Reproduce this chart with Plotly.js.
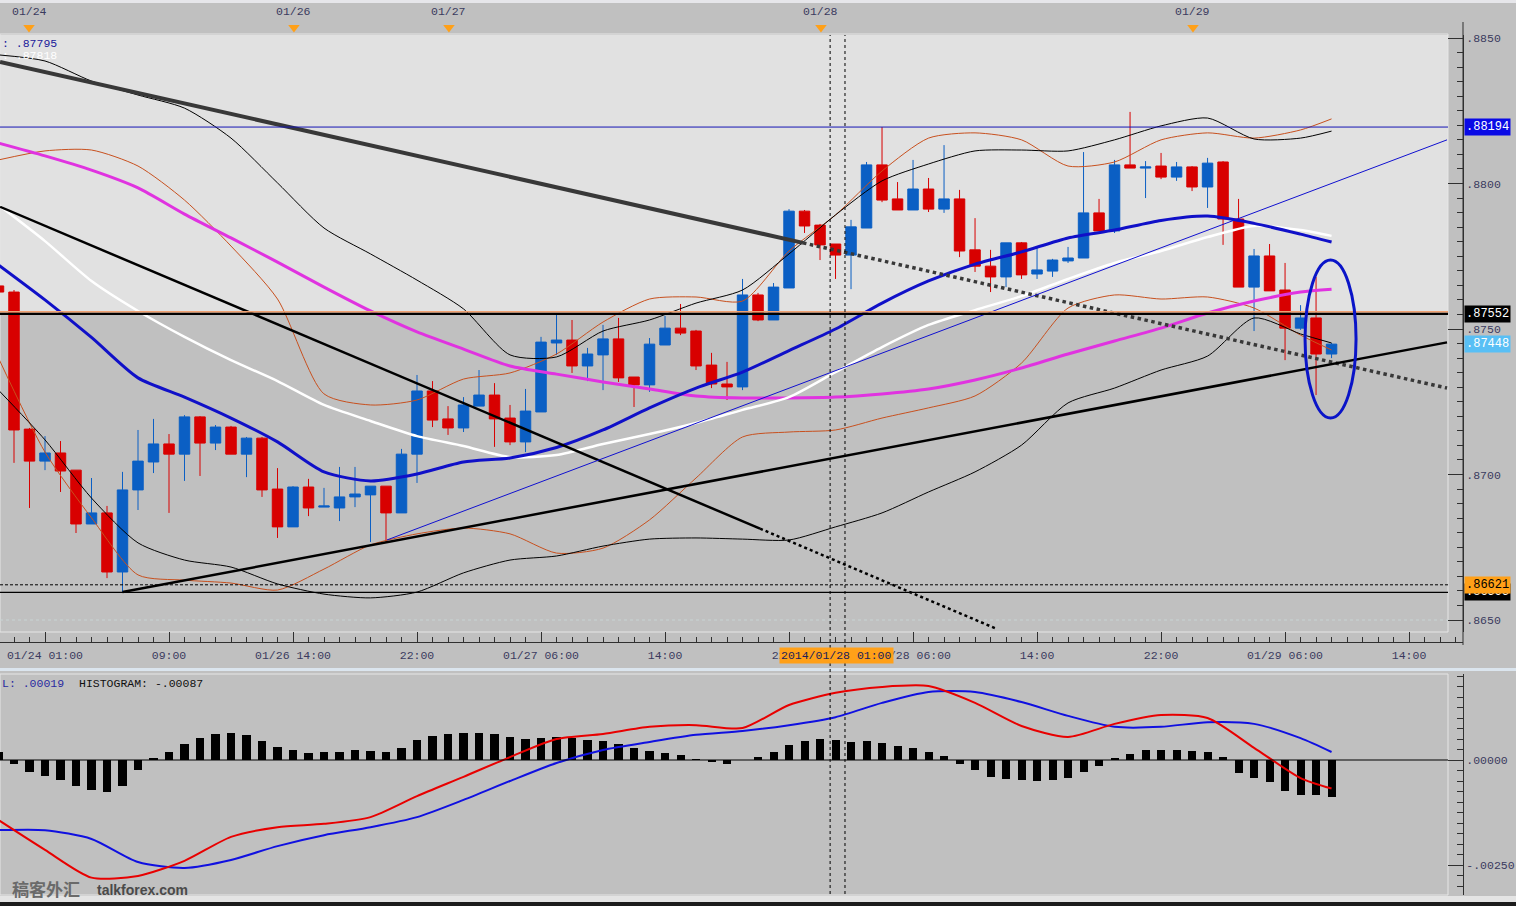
<!DOCTYPE html>
<html>
<head>
<meta charset="utf-8">
<script src="https://cdn.plot.ly/plotly-3.0.1.min.js"></script>
<style>
html,body{margin:0;padding:0;background:#c0c0c0;}
#chart{width:1516px;height:906px;}
</style>
</head>
<body>
<div id="chart"></div>
<script>
// ---------- hourly candles (bar index k = -1 .. 85) ----------
const barK = [];
for (let k = -1; k <= 85; k++) barK.push(k);

const openP = [0.87648,
 0.87627,0.87156,0.87046,0.87074,0.87015,0.86830,0.86868,0.86665,0.86947,0.87043,
 0.87105,0.87070,0.87198,0.87108,0.87163,0.87070,0.87125,0.86950,0.86820,0.86957,
 0.86888,0.86885,0.86923,0.86930,0.86960,0.86868,0.87070,0.87287,0.87191,0.87160,
 0.87235,0.87273,0.87194,0.87112,0.87215,0.87452,0.87462,0.87373,0.87411,0.87466,
 0.87335,0.87308,0.87445,0.87503,0.87493,0.87376,0.87311,0.87301,0.87617,0.87531,
 0.87641,0.87905,0.87857,0.87792,0.87754,0.87847,0.88064,0.87947,0.87909,0.87981,
 0.87912,0.87947,0.87772,0.87716,0.87679,0.87796,0.87689,0.87699,0.87734,0.87744,
 0.87899,0.87837,0.88064,0.88053,0.88060,0.88022,0.88057,0.87988,0.88074,0.87878,
 0.87644,0.87751,0.87634,0.87503,0.87538,0.87414];
const highP = [0.87658,
 0.87634,0.87160,0.87132,0.87115,0.87015,0.86988,0.86892,0.87009,0.87153,0.87191,
 0.87139,0.87204,0.87201,0.87170,0.87167,0.87129,0.87129,0.87022,0.86960,0.86985,
 0.86954,0.87026,0.87026,0.86960,0.86960,0.87088,0.87342,0.87321,0.87235,0.87266,
 0.87359,0.87314,0.87239,0.87294,0.87473,0.87552,0.87531,0.87435,0.87514,0.87538,
 0.87335,0.87469,0.87545,0.87586,0.87497,0.87418,0.87387,0.87672,0.87624,0.87658,
 0.87912,0.87909,0.87861,0.87792,0.87875,0.88074,0.88194,0.88005,0.88081,0.88019,
 0.88132,0.87978,0.87881,0.87772,0.87796,0.87799,0.87782,0.87741,0.87782,0.88108,
 0.87947,0.88081,0.88246,0.88077,0.88105,0.88074,0.88060,0.88088,0.88077,0.87947,
 0.87775,0.87792,0.87727,0.87582,0.87679,0.87452];
const lowP = [0.87620,
 0.87040,0.86885,0.87015,0.86940,0.86799,0.86830,0.86644,0.86596,0.86878,0.87005,
 0.86868,0.86978,0.86995,0.87084,0.87070,0.86991,0.86923,0.86782,0.86820,0.86857,
 0.86888,0.86840,0.86888,0.86768,0.86768,0.86868,0.86971,0.87163,0.87136,0.87146,
 0.87235,0.87095,0.87101,0.87077,0.87215,0.87411,0.87349,0.87321,0.87290,0.87318,
 0.87232,0.87284,0.87445,0.87479,0.87359,0.87297,0.87256,0.87290,0.87527,0.87531,
 0.87641,0.87830,0.87737,0.87672,0.87637,0.87847,0.87936,0.87909,0.87909,0.87902,
 0.87899,0.87747,0.87696,0.87627,0.87644,0.87672,0.87672,0.87679,0.87727,0.87744,
 0.87837,0.87830,0.88053,0.87950,0.88015,0.88009,0.87974,0.87916,0.87789,0.87644,
 0.87493,0.87631,0.87393,0.87497,0.87273,0.87400];
const closeP = [0.87627,
 0.87153,0.87046,0.87074,0.87012,0.86830,0.86868,0.86665,0.86947,0.87046,0.87105,
 0.87070,0.87198,0.87108,0.87163,0.87070,0.87125,0.86947,0.86820,0.86957,0.86885,
 0.86892,0.86923,0.86933,0.86960,0.86868,0.87070,0.87287,0.87187,0.87160,0.87239,
 0.87273,0.87191,0.87112,0.87218,0.87455,0.87462,0.87373,0.87414,0.87466,0.87332,
 0.87308,0.87448,0.87503,0.87486,0.87373,0.87311,0.87301,0.87617,0.87531,0.87644,
 0.87905,0.87854,0.87789,0.87754,0.87851,0.88064,0.87943,0.87909,0.87981,0.87912,
 0.87947,0.87768,0.87716,0.87679,0.87796,0.87686,0.87703,0.87737,0.87744,0.87899,
 0.87837,0.88064,0.88053,0.88057,0.88022,0.88057,0.87988,0.88070,0.87878,0.87644,
 0.87751,0.87631,0.87503,0.87538,0.87414,0.87448];

// ---------- indicator readings at sample bars ----------
const sampleK = [-1,2,5,8,11,14,17,20,23,26,29,32,35,38,41,44,47,50,53,56,59,62,65,68,71,74,77,80,83,85];
const maBlue = [0.87720,0.87600,0.87471,0.87332,0.87266,0.87194,0.87112,0.87009,0.86978,0.87002,0.87043,0.87057,0.87093,0.87153,0.87229,0.87297,0.87352,0.87426,0.87500,0.87589,0.87665,0.87723,0.87765,0.87813,0.87840,0.87873,0.87888,0.87863,0.87826,0.87799];
const maWhite = [0.87926,0.87802,0.87665,0.87562,0.87473,0.87393,0.87321,0.87239,0.87184,0.87132,0.87098,0.87060,0.87067,0.87105,0.87139,0.87177,0.87222,0.87266,0.87352,0.87438,0.87514,0.87565,0.87613,0.87672,0.87727,0.87768,0.87816,0.87854,0.87840,0.87820];
const maMagenta = [0.88139,0.88095,0.88046,0.87985,0.87895,0.87813,0.87730,0.87644,0.87562,0.87490,0.87431,0.87373,0.87345,0.87318,0.87294,0.87270,0.87263,0.87263,0.87266,0.87277,0.87294,0.87325,0.87366,0.87414,0.87459,0.87503,0.87555,0.87596,0.87627,0.87637];
const bandOrangeUp = [0.88081,0.88112,0.88115,0.88060,0.87943,0.87785,0.87603,0.87277,0.87239,0.87256,0.87328,0.87349,0.87414,0.87524,0.87603,0.87610,0.87596,0.87768,0.87892,0.88043,0.88156,0.88174,0.88150,0.88060,0.88074,0.88150,0.88174,0.88156,0.88184,0.88222];
const bandOrangeLow = [0.87400,0.87077,0.86851,0.86655,0.86637,0.86627,0.86603,0.86675,0.86758,0.86796,0.86816,0.86796,0.86730,0.86747,0.86844,0.86988,0.87129,0.87146,0.87153,0.87194,0.87229,0.87270,0.87383,0.87572,0.87617,0.87603,0.87610,0.87572,0.87479,0.87428];
const bandBlackUp = [0.88442,0.88421,0.88352,0.88304,0.88259,0.88156,0.88002,0.87847,0.87758,0.87668,0.87569,0.87411,0.87404,0.87493,0.87531,0.87589,0.87634,0.87758,0.87892,0.88009,0.88067,0.88112,0.88115,0.88112,0.88150,0.88198,0.88225,0.88153,0.88156,0.88180];
const bandBlackLow = [0.87290,0.87119,0.86919,0.86765,0.86706,0.86682,0.86624,0.86589,0.86576,0.86596,0.86662,0.86706,0.86720,0.86754,0.86778,0.86782,0.86778,0.86775,0.86820,0.86868,0.86940,0.87009,0.87101,0.87246,0.87297,0.87359,0.87407,0.87538,0.87483,0.87452];

// ---------- MACD panel ----------
const macdLine = [-0.00143,-0.00214,-0.00280,-0.00276,-0.00240,-0.00183,-0.00160,-0.00152,-0.00136,-0.00086,-0.00040,0.00007,0.00050,0.00062,0.00079,0.00083,0.00076,0.00131,0.00160,0.00174,0.00176,0.00136,0.00081,0.00055,0.00086,0.00107,0.00100,0.00029,-0.00043,-0.00068];
const signalLine = [-0.00167,-0.00167,-0.00188,-0.00243,-0.00257,-0.00238,-0.00205,-0.00179,-0.00160,-0.00136,-0.00095,-0.00050,-0.00007,0.00024,0.00043,0.00060,0.00069,0.00083,0.00102,0.00136,0.00162,0.00162,0.00138,0.00105,0.00079,0.00079,0.00090,0.00086,0.00052,0.00019];
const histogram = [0.00019,
 -0.00010,-0.00029,-0.00038,-0.00048,-0.00062,-0.00071,-0.00076,-0.00062,-0.00024,0.00005,
 0.00019,0.00038,0.00052,0.00062,0.00064,0.00060,0.00045,0.00031,0.00024,0.00017,
 0.00019,0.00019,0.00024,0.00021,0.00019,0.00029,0.00048,0.00057,0.00062,0.00064,
 0.00064,0.00062,0.00055,0.00050,0.00052,0.00055,0.00052,0.00048,0.00045,0.00038,
 0.00029,0.00021,0.00017,0.00012,0.00002,-0.00005,-0.00010,0.00000,0.00007,0.00019,
 0.00036,0.00045,0.00050,0.00048,0.00043,0.00045,0.00040,0.00033,0.00029,0.00019,
 0.00010,-0.00010,-0.00024,-0.00040,-0.00045,-0.00048,-0.00050,-0.00048,-0.00043,-0.00029,
 -0.00014,0.00005,0.00014,0.00024,0.00024,0.00024,0.00021,0.00019,0.00007,-0.00031,
 -0.00043,-0.00052,-0.00074,-0.00083,-0.00083,-0.00087];

// ---------- drawn trend lines (bar index, price) ----------
const trendGrayK = [-0.9, 50.9];        const trendGrayP = [0.88418, 0.87796];
const trendGrayDotK = [50.9, 92.45];    const trendGrayDotP = [0.87796, 0.87297];
const trendDownK = [-0.9, 48.13];       const trendDownP = [0.87920, 0.86814];
const trendDownDotK = [48.13, 63.29];   const trendDownDotP = [0.86814, 0.86472];
const trendUpK = [7, 92.45];            const trendUpP = [0.86596, 0.87454];
const trendBlueK = [24.06, 92.45];      const trendBlueP = [0.86775, 0.88150];

// horizontal levels
const levelBlue = 0.88194, levelOrange = 0.87552, levelDotted = 0.86621, levelLow = 0.86595, levelGrid = 0.8650;
const lastPrice = 0.87448;
// crosshair and ellipse
const crossK = [52.65, 53.61];
const ellipseK = [83.29, 86.58]; const ellipseP = [0.87194, 0.87737];

// axis ticks / labels
const xTickK = [2,10,18,26,34,42,50,58,66,74,82,90];
const xTickText = ['01/24 01:00','09:00','01/26 14:00','22:00','01/27 06:00','14:00','22:00','01/28 06:00','14:00','22:00','01/29 06:00','14:00'];
const yTickVals = [0.865,0.870,0.875,0.880,0.885];
const yTickText = ['.8650','.8700','.8750','.8800','.8850'];
const macdTickVals = [0, -0.0025];
const macdTickText = ['.00000','-.00250'];
const dateMarkK = [0.97, 18.06, 28.06, 52.06, 76.06];
const dateMarkText = ['01/24','01/26','01/27','01/28','01/29'];
const topTickK = [1.03,3.16,5.35,7.42,9.55,11.68,13.81,15.94,18.06,19.29,20.58,21.81,23.10,24.32,25.61,26.84,28.06,31.10,34.26,37.42,40.52,43.61,46.71,49.81,52.06,53.94,57.03,60.13,63.23,66.32,69.42,72.52,76.06,78.97,82.06,85.16,88.26,91.35];

// ---------- geometry helpers (pixels -> paper) ----------
const W = 1463, H = 906;
const px = x => x / W;
const py = y => 1 - y / H;
const plotRight = px(1448);
const MONO = 'Liberation Mono, DejaVu Sans Mono, monospace';
const TXT = '#3a3a5e';

const traces = [];
traces.push({
  type:'candlestick', x:barK, open:openP, high:highP, low:lowP, close:closeP,
  xaxis:'x', yaxis:'y', hoverinfo:'skip', showlegend:false,
  increasing:{line:{color:'#0b5fc4', width:1}, fillcolor:'#0b5fc4'},
  decreasing:{line:{color:'#d80000', width:1}, fillcolor:'#d80000'},
  whiskerwidth:0
});
function line(x, y, color, width) {
  return {type:'scatter', mode:'lines', x:x, y:y, xaxis:'x', yaxis:'y',
    line:{color:color, width:width, shape:'spline', smoothing:0.7}, hoverinfo:'skip', showlegend:false};
}
traces.push(line(sampleK, bandOrangeUp, '#c8501e', 1));
traces.push(line(sampleK, bandOrangeLow, '#c8501e', 1));
traces.push(line(sampleK, bandBlackUp, '#000000', 1));
traces.push(line(sampleK, bandBlackLow, '#000000', 1));
traces.push(line(sampleK, maMagenta, '#e033e0', 3));
traces.push(line(sampleK, maWhite, '#ffffff', 2.5));
traces.push(line(sampleK, maBlue, '#1010c8', 3));
function tl(x, y, color, width, dash) {
  return {type:'scatter', mode:'lines', x:x, y:y, xaxis:'x', yaxis:'y',
    line:{color:color, width:width, dash:dash||'solid'}, hoverinfo:'skip', showlegend:false};
}
traces.push(tl(trendGrayK, trendGrayP, '#383838', 4));
traces.push(tl(trendGrayDotK, trendGrayDotP, '#383838', 3.5, 'dot'));
traces.push(tl(trendDownK, trendDownP, '#000000', 2.5));
traces.push(tl(trendDownDotK, trendDownDotP, '#000000', 2.5, 'dot'));
traces.push(tl(trendUpK, trendUpP, '#000000', 2.5));
traces.push(tl(trendBlueK, trendBlueP, '#1010d0', 1));

// MACD
traces.push({type:'bar', x:barK, y:histogram, xaxis:'x2', yaxis:'y2', width:0.52,
  marker:{color:'#000000', line:{width:0}}, hoverinfo:'skip', showlegend:false});
traces.push({type:'scatter', mode:'lines', x:sampleK, y:signalLine, xaxis:'x2', yaxis:'y2',
  line:{color:'#1010e0', width:2, shape:'spline', smoothing:0.7}, hoverinfo:'skip', showlegend:false});
traces.push({type:'scatter', mode:'lines', x:sampleK, y:macdLine, xaxis:'x2', yaxis:'y2',
  line:{color:'#e80000', width:2, shape:'spline', smoothing:0.7}, hoverinfo:'skip', showlegend:false});

// top date markers (own strip below the top time axis)
traces.push({type:'scatter', mode:'markers', x:dateMarkK, y:dateMarkK.map(()=>0.5), xaxis:'x4', yaxis:'y4',
  marker:{symbol:'triangle-down', size:10, color:'#ffa018', line:{width:0}}, cliponaxis:false, hoverinfo:'skip', showlegend:false});

const xRange = [-0.903, 93.48];
const shapes = [];
// background zones
shapes.push({type:'rect', xref:'paper', yref:'paper', x0:0, x1:1.05, y0:py(3), y1:1, fillcolor:'#e6e6ea', line:{width:0}, layer:'below'});
shapes.push({type:'rect', xref:'paper', yref:'y', x0:0, x1:plotRight, y0:levelOrange, y1:0.885103, fillcolor:'#e1e1e1', line:{width:0}, layer:'below'});
shapes.push({type:'rect', xref:'paper', yref:'paper', x0:0, x1:plotRight, y0:py(632), y1:py(34), fillcolor:'rgba(0,0,0,0)', line:{color:'#e6e6e6', width:1}, layer:'below'});
shapes.push({type:'rect', xref:'paper', yref:'paper', x0:0, x1:plotRight, y0:py(895), y1:py(674), fillcolor:'rgba(0,0,0,0)', line:{color:'#e6e6e6', width:1}, layer:'below'});
shapes.push({type:'rect', xref:'paper', yref:'paper', x0:0, x1:1.05, y0:py(671), y1:py(668), fillcolor:'#dbe5ee', line:{width:0}, layer:'below'});
shapes.push({type:'rect', xref:'paper', yref:'paper', x0:0, x1:1.05, y0:py(902), y1:py(896), fillcolor:'#e4e4e4', line:{width:0}});
shapes.push({type:'rect', xref:'paper', yref:'paper', x0:0, x1:1.05, y0:0, y1:py(902), fillcolor:'#1c1c1c', line:{width:0}});
// right axis line through the gaps
shapes.push({type:'line', xref:'paper', yref:'paper', x0:1, x1:1, y0:py(645), y1:py(22), line:{color:'#303030', width:1}});
// horizontal levels
shapes.push({type:'line', xref:'paper', yref:'y', x0:0, x1:plotRight, y0:levelBlue, y1:levelBlue, line:{color:'#1414b4', width:1}});
shapes.push({type:'line', xref:'paper', yref:'y', x0:0, x1:plotRight, y0:levelOrange, y1:levelOrange, line:{color:'#000000', width:2.5}});
shapes.push({type:'line', xref:'paper', yref:'y', x0:0, x1:plotRight, y0:levelOrange+0.00007, y1:levelOrange+0.00007, line:{color:'#f0a070', width:1.5}});
shapes.push({type:'line', xref:'paper', yref:'y', x0:0, x1:plotRight, y0:levelDotted, y1:levelDotted, line:{color:'#000000', width:1, dash:'3px,2px'}});
shapes.push({type:'line', xref:'paper', yref:'y', x0:0, x1:plotRight, y0:levelLow, y1:levelLow, line:{color:'#000000', width:1.2}});
shapes.push({type:'line', xref:'paper', yref:'y', x0:0, x1:plotRight, y0:levelGrid, y1:levelGrid, line:{color:'#c8d4d4', width:1, dash:'3px,3px'}, layer:'below'});
// crosshair verticals
crossK.forEach(k => shapes.push({type:'line', xref:'x', yref:'paper', x0:k, x1:k, y0:py(894), y1:py(35), line:{color:'#000000', width:1, dash:'3px,3px'}}));
// MACD zero line
shapes.push({type:'line', xref:'paper', yref:'y2', x0:0, x1:plotRight, y0:0, y1:0, line:{color:'#000000', width:1}});
// ellipse
shapes.push({type:'circle', xref:'x', yref:'y', x0:ellipseK[0], x1:ellipseK[1], y0:ellipseP[0], y1:ellipseP[1], line:{color:'#0a14c8', width:3}});

const annotations = [];
function tag(text, y, bg, fg) {
  annotations.push({xref:'paper', yref:'y', x:px(1464), y:y, xanchor:'left', yanchor:'middle', text:text, showarrow:false,
    bgcolor:bg, borderpad:1, font:{family:MONO, size:12, color:fg}});
}
tag('.88194', levelBlue, '#0a0ae6', '#ffffff');
tag('.87552', levelOrange, '#000000', '#ffffff');
tag('.87448', lastPrice, '#58bff5', '#ffffff');
tag('.86595', levelLow, '#000000', '#ffffff');
tag('.86621', levelDotted, '#ffa018', '#000000');
// top date labels
dateMarkK.forEach((k,i) => annotations.push({xref:'x', yref:'paper', x:k, y:py(12), text:dateMarkText[i], showarrow:false,
  xanchor:'center', yanchor:'middle', font:{family:MONO, size:11.5, color:TXT}}));
// MA legend values
annotations.push({xref:'paper', yref:'paper', x:0, y:py(43), xanchor:'left', yanchor:'middle', text:': .87795', showarrow:false, font:{family:MONO, size:11.5, color:'#1a1a9a'}});
annotations.push({xref:'paper', yref:'paper', x:0, y:py(56), xanchor:'left', yanchor:'middle', text:': .87818', showarrow:false, font:{family:MONO, size:11.5, color:'#ffffff'}});
// MACD header
annotations.push({xref:'paper', yref:'paper', x:0, y:py(683), xanchor:'left', yanchor:'middle', text:'L: .00019', showarrow:false, font:{family:MONO, size:11.5, color:'#2a2aa0'}});
annotations.push({xref:'paper', yref:'paper', x:px(77), y:py(683), xanchor:'left', yanchor:'middle', text:'HISTOGRAM: -.00087', showarrow:false, font:{family:MONO, size:11.5, color:'#101010'}});
// crosshair time label
annotations.push({xref:'x', yref:'paper', x:53.03, y:py(655), xanchor:'center', yanchor:'middle', text:'2014/01/28 01:00', showarrow:false,
  bgcolor:'#ffa018', borderpad:1, font:{family:MONO, size:11.5, color:'#20205a'}});
// watermark
annotations.push({xref:'paper', yref:'paper', x:px(10), y:py(888), xanchor:'left', yanchor:'middle', text:'<b>稿客外汇</b>', showarrow:false,
  font:{family:'Noto Sans CJK SC', size:17, color:'#6a6a6a'}});
annotations.push({xref:'paper', yref:'paper', x:px(95), y:py(890), xanchor:'left', yanchor:'middle', text:'<b>talkforex.com</b>', showarrow:false,
  font:{family:'Liberation Sans, Arial, sans-serif', size:14, color:'#4a4a4a'}});

const layout = {
  width:1516, height:906,
  margin:{l:0, r:53, t:0, b:0},
  paper_bgcolor:'#c0c0c0', plot_bgcolor:'#c0c0c0',
  showlegend:false, bargap:0, boxgap:0.1, boxgroupgap:0.25,
  xaxis:{domain:[0,1], range:xRange, anchor:'free', position:py(642), tickvals:xTickK, ticktext:xTickText,
    ticks:'inside', ticklen:10, tickcolor:'#303030', showline:true, linecolor:'#303030', linewidth:1,
    minor:{dtick:1, tick0:0, ticks:'inside', ticklen:5, tickcolor:'#303030'},
    showgrid:false, zeroline:false, rangeslider:{visible:false}, ticklabelstandoff:2,
    tickfont:{family:MONO, size:11.5, color:TXT}, fixedrange:true},
  xaxis2:{domain:[0,1], range:xRange, anchor:'y2', showticklabels:false, ticks:'', showgrid:false, zeroline:false, showline:false, fixedrange:true},
  xaxis3:{domain:[0,1], range:xRange, anchor:'y3', showticklabels:false, tickvals:topTickK, ticks:'outside', ticklen:4,
    tickcolor:'#303030', showline:true, linecolor:'#303030', showgrid:false, zeroline:false, fixedrange:true},
  xaxis4:{domain:[0,1], range:xRange, anchor:'y4', visible:false, fixedrange:true},
  yaxis:{domain:[py(632), py(35)], range:[0.864588, 0.885103], side:'right', anchor:'x',
    tickvals:yTickVals, ticktext:yTickText, ticks:'inside', ticklen:15, tickcolor:'#303030',
    minor:{dtick:0.0005, tick0:0, ticks:'inside', ticklen:6, tickcolor:'#303030'},
    showline:true, linecolor:'#303030', showgrid:false, zeroline:false,
    tickfont:{family:MONO, size:11.5, color:TXT}, fixedrange:true},
  yaxis2:{domain:[py(895), py(674)], range:[-0.0032143, 0.0020476], side:'right', anchor:'x2',
    tickvals:macdTickVals, ticktext:macdTickText, ticks:'inside', ticklen:15, tickcolor:'#303030',
    minor:{dtick:0.00025, tick0:0, ticks:'inside', ticklen:6, tickcolor:'#303030'},
    showline:true, linecolor:'#303030', showgrid:false, zeroline:false,
    tickfont:{family:MONO, size:11.5, color:TXT}, fixedrange:true},
  yaxis3:{domain:[py(22), 1], range:[0,1], visible:false, fixedrange:true},
  yaxis4:{domain:[py(33), py(22)], range:[0,1], visible:false, fixedrange:true},
  shapes:shapes, annotations:annotations
};

Plotly.newPlot('chart', traces, layout, {staticPlot:true, displayModeBar:false});
</script>
</body>
</html>
